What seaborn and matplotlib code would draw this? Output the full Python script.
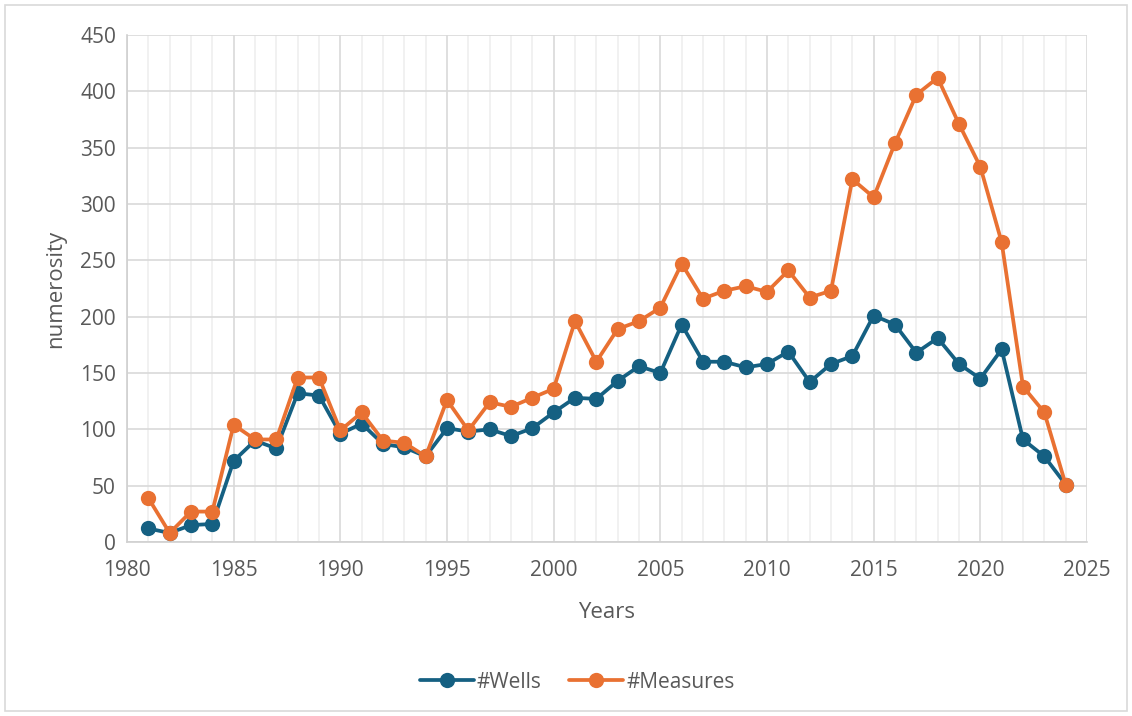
import numpy as np
import pandas as pd
import matplotlib
matplotlib.use("Agg")
import matplotlib.pyplot as plt
from matplotlib.ticker import MultipleLocator
import seaborn as sns

years = list(range(1981, 2025))
wells = [12, 8, 15, 16, 72, 90, 83, 132, 130, 96,
         105, 87, 84, 76, 101, 98, 100, 94, 101, 115,
         128, 127, 143, 156, 150, 193, 160, 160, 155, 158,
         169, 142, 158, 165, 201, 193, 168, 181, 158, 145,
         171, 91, 76, 51]
measures = [39, 8, 27, 27, 104, 91, 91, 146, 146, 99,
            115, 90, 88, 76, 126, 99, 124, 120, 128, 136,
            196, 160, 189, 196, 208, 247, 216, 223, 227, 222,
            241, 217, 223, 322, 306, 354, 397, 412, 371, 333,
            266, 138, 115, 51]
series_names = ["#Wells", "#Measures"]
series_colors = ["#156082", "#E97132"]

df = pd.concat([
    pd.DataFrame({"Years": years, "numerosity": wells, "series": series_names[0]}),
    pd.DataFrame({"Years": years, "numerosity": measures, "series": series_names[1]}),
])

sns.set_theme(style="white")
plt.rcParams["font.family"] = ["Open Sans", "DejaVu Sans"]

fig = plt.figure(figsize=(11.32, 7.16), dpi=100)
ax = fig.add_axes([127 / 1132, 1 - 542 / 716, 960 / 1132, 507 / 716])

sns.lineplot(data=df, x="Years", y="numerosity", hue="series",
             palette=dict(zip(series_names, series_colors)),
             marker="o", markersize=11, markeredgewidth=0, linewidth=2.7,
             ax=ax, zorder=3)

ax.set_xlim(1980, 2025)
ax.set_ylim(0, 450)
ax.xaxis.set_major_locator(MultipleLocator(5))
ax.xaxis.set_minor_locator(MultipleLocator(1))
ax.yaxis.set_major_locator(MultipleLocator(50))
ax.grid(which="major", color="#d9d9d9", linewidth=1.2, zorder=0)
ax.grid(which="minor", axis="x", color="#efefef", linewidth=1.2, zorder=0)
ax.set_axisbelow(True)
for side in ["top", "right"]:
    ax.spines[side].set_visible(False)
for side in ["left", "bottom"]:
    ax.spines[side].set_color("#d0d0d0")
    ax.spines[side].set_linewidth(1.2)
ax.tick_params(axis="both", which="both", length=0, labelsize=15, colors="#595959")
ax.tick_params(axis="x", pad=13)
ax.tick_params(axis="y", pad=8)
ax.set_xlabel("Years", fontsize=16, color="#595959", labelpad=15)
ax.set_ylabel("numerosity", fontsize=16, color="#595959", labelpad=10)

leg = fig.legend(*ax.get_legend_handles_labels(), loc="center",
                 bbox_to_anchor=(577 / 1132, 1 - 682 / 716), ncol=2,
                 frameon=False, fontsize=15, handlelength=2.6, columnspacing=1.3,
                 handletextpad=0.15)
ax.get_legend().remove()
for t in leg.get_texts():
    t.set_color("#595959")

fig.patches.append(plt.Rectangle((5 / 1132, 5 / 716), 1 - 10 / 1132, 1 - 10 / 716,
                                 transform=fig.transFigure, fill=False,
                                 edgecolor="#d9d9d9", linewidth=1.2))

fig.savefig("out.png", dpi=100, facecolor="white")
